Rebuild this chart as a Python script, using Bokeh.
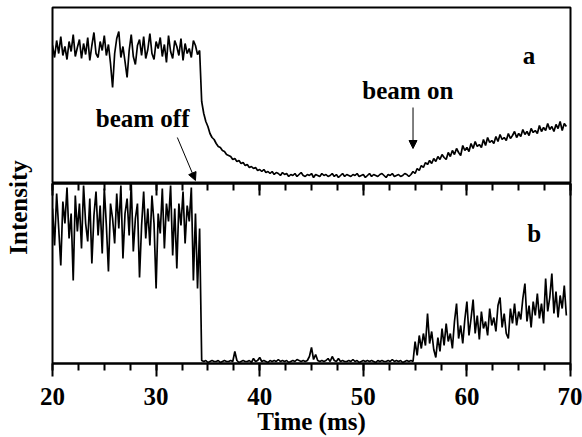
import math
from bokeh.plotting import figure
from bokeh.models import (Range1d, LinearAxis, SingleIntervalTicker, Label,
                          Arrow, NormalHead, ColumnDataSource, CustomJSTickFormatter)
from bokeh.layouts import column, row
from bokeh.embed import file_html
from bokeh.resources import INLINE

# ---------------- data ----------------
# sampling grid: 20.0 ... 70.0 ms every 0.2 ms
time_ms = [round(20 + 0.2 * i, 1) for i in range(251)]

# panel a (arbitrary intensity units)
a_before = [138, 126, 143, 130, 147, 128, 137, 124, 142, 132, 149, 127,
            136, 144, 125, 140, 129, 146, 123, 138, 151, 130, 126, 142,
            133, 148, 128, 139, 120, 96, 130, 145, 152, 126, 137, 122,
            106, 133, 149, 127, 119, 138, 144, 128, 147, 125, 134, 150,
            130, 124, 142, 135, 146, 127, 139, 121, 148, 132, 125, 143,
            137, 128, 145, 123, 140, 130, 135, 126, 143, 138, 129, 133]
a_decay = [82, 70, 62, 57, 50, 46, 44, 40, 37, 36, 33, 32, 29, 28, 27, 24,
           25, 22, 23, 20, 21, 18, 19, 16, 17, 15, 16, 13, 14, 12, 14, 11,
           12, 10, 12, 9, 11, 10, 8, 11, 9, 10, 7, 9]
a_floor = [8, 10, 7, 9, 11, 8, 7, 9, 8, 10,
           6, 9, 8, 7, 10, 8, 9, 7, 8, 10,
           7, 9, 6, 8, 10, 7, 9, 8, 7, 9,
           8, 10, 7, 8, 9, 6, 8, 10, 7, 9,
           8, 7, 9, 10, 8, 6, 9, 8, 10, 7,
           8, 9, 7, 8, 10, 9, 7]
a_rise = [9, 12, 10, 15, 13, 18, 16, 21, 19, 23, 20, 25, 22, 27, 24,
          29, 26, 24, 31, 27, 33, 29, 35, 31, 28, 38, 33, 36, 32, 40,
          35, 42, 37, 39, 36, 44, 38, 46, 41, 43, 40, 47, 42, 49, 44,
          46, 43, 50, 45, 48, 52, 46, 50, 47, 54, 49, 52, 48, 55, 51,
          53, 50, 58, 52, 56, 53, 60, 54, 57, 52, 59, 55, 62, 53, 60, 57]

# panel b (arbitrary intensity units)
b_before = [155, 118, 170, 135, 98, 162, 140, 176, 125, 150, 83, 168,
            132, 160, 115, 178, 140, 122, 165, 100, 148, 172, 128, 158,
            110, 175, 138, 92, 160, 145, 120, 170, 135, 178, 105, 150,
            165, 128, 180, 112, 145, 160, 86, 138, 172, 125, 155, 118,
            168, 140, 75, 150, 130, 175, 115, 160, 142, 178, 108, 155,
            95, 160, 138, 172, 120, 158, 142, 176, 83, 150, 75, 135]
b_off = [3, 2, 3, 1, 2, 3, 2, 2, 3, 1,
         2, 3, 2, 2, 3, 2, 12, 3, 1, 2,
         3, 2, 2, 3, 1, 5, 2, 3, 6, 2,
         3, 2, 1, 3, 2, 3, 2, 4, 2, 3,
         2, 3, 1, 2, 3, 2, 4, 3, 2, 3,
         2, 3, 7, 16, 4, 9, 3, 2, 3, 2,
         3, 5, 2, 7, 3, 2, 5, 2, 3, 2,
         2, 3, 2, 4, 2, 3, 1, 2, 3, 2,
         3, 2, 3, 2, 1, 3, 2, 3, 2, 2,
         3, 2, 4, 2, 3, 2, 3, 1, 2, 3,
         2, 3, 2]
b_on = [22, 8, 28, 15, 30, 18, 50, 20, 32, 14, 6, 26, 12, 35, 18,
        40, 22, 30, 15, 42, 60, 25, 38, 20, 44, 62, 28, 45, 64, 30,
        48, 24, 52, 35, 42, 28, 55, 38, 46, 32, 58, 66, 36, 50, 30,
        25, 55, 40, 60, 38, 52, 44, 65, 80, 42, 58, 36, 62, 48, 70,
        45, 60, 40, 85, 52, 66, 90, 50, 72, 46, 68, 55, 78, 48, 65, 58]

intensity_a = a_before + a_decay + a_floor + a_rise
intensity_b = b_before + b_off + b_on

panel_labels = ["a", "b"]
beam_off_ms, beam_on_ms = 33.8, 54.8

# ---------------- styling ----------------
FONT = "Liberation Serif"
FS = "25px"
LW = 1.7


def bold_label(**kw):
    return Label(text_font=FONT, text_font_style="bold", text_font_size=FS,
                 text_color="black", **kw)


x_range = Range1d(20, 70)
src = ColumnDataSource(dict(t=time_ms, a=intensity_a, b=intensity_b))

# narrow canvas carrying the y-axis title (spans both panels)
p0 = figure(width=36, height=437, x_range=Range1d(0, 36), y_range=Range1d(0, 437),
            output_backend="svg", toolbar_location=None,
            x_axis_location=None, y_axis_location=None,
            min_border_left=0, min_border_right=0,
            min_border_top=0, min_border_bottom=0)
p0.grid.visible = False
p0.outline_line_color = None
p0.add_layout(bold_label(x=18, y=230, text="Intensity", angle=math.pi / 2,
                         text_align="center", text_baseline="middle"))

W = 546
p1 = figure(width=W, height=183, x_range=x_range, y_range=Range1d(0, 176),
            output_backend="svg", toolbar_location=None,
            x_axis_location=None, y_axis_location=None,
            min_border_left=16, min_border_right=12,
            min_border_top=7, min_border_bottom=0)
p1.grid.visible = False
p1.outline_line_color = "black"
p1.outline_line_width = 2
p1.outline_line_alpha = 1
p1.line("t", "a", source=src, line_color="black", line_width=LW)

p1.add_layout(bold_label(x=28.7, y=65, text="beam off",
                         text_align="center", text_baseline="alphabetic"))
p1.add_layout(bold_label(x=54.3, y=93, text="beam on",
                         text_align="center", text_baseline="alphabetic"))
p1.add_layout(bold_label(x=66.0, y=128, text=panel_labels[0],
                         text_align="center", text_baseline="alphabetic"))
p1.add_layout(Arrow(x_start=32.05, y_start=46, x_end=beam_off_ms, y_end=3,
                    line_width=1,
                    end=NormalHead(size=8, fill_color="black", line_color="black")))
p1.add_layout(Arrow(x_start=beam_on_ms, y_start=76, x_end=beam_on_ms, y_end=35,
                    line_width=1,
                    end=NormalHead(size=8, fill_color="black", line_color="black")))

p2 = figure(width=W, height=254, x_range=x_range, y_range=Range1d(0, 180),
            output_backend="svg", toolbar_location=None,
            y_axis_location=None,
            min_border_left=16, min_border_right=12,
            min_border_top=0, min_border_bottom=74)
p2.grid.visible = False
p2.outline_line_color = "black"
p2.outline_line_width = 2
p2.outline_line_alpha = 1
p2.line("t", "b", source=src, line_color="black", line_width=LW)

xa = p2.xaxis[0]
xa.ticker = SingleIntervalTicker(interval=10, num_minor_ticks=4)
xa.axis_line_width = 2
xa.major_tick_line_width = 2
xa.minor_tick_line_width = 2
xa.major_tick_out = 13
xa.major_tick_in = 0
xa.minor_tick_out = 7
xa.minor_tick_in = 0
xa.major_label_text_font = FONT
xa.major_label_text_font_style = "bold"
xa.major_label_text_font_size = FS
xa.major_label_text_color = "black"
xa.major_label_standoff = 11
xa.axis_label = "Time (ms)"
xa.axis_label_text_font = FONT
xa.axis_label_text_font_style = "bold"
xa.axis_label_text_font_size = FS
xa.axis_label_text_color = "black"
xa.axis_label_standoff = 0

top_ax = LinearAxis(ticker=SingleIntervalTicker(interval=10, num_minor_ticks=4),
                    formatter=CustomJSTickFormatter(code="return ''"),
                    major_label_text_font_size="1px", major_label_standoff=0,
                    major_tick_in=12, major_tick_out=0,
                    minor_tick_in=7, minor_tick_out=0,
                    axis_line_width=2, major_tick_line_width=2,
                    minor_tick_line_width=2)
p2.add_layout(top_ax, "above")

p2.add_layout(bold_label(x=66.5, y=130, text=panel_labels[1],
                         text_align="center", text_baseline="alphabetic"))

layout = row(p0, column(p1, p2, spacing=0), spacing=0)
open("out.html", "w").write(file_html(layout, INLINE))
